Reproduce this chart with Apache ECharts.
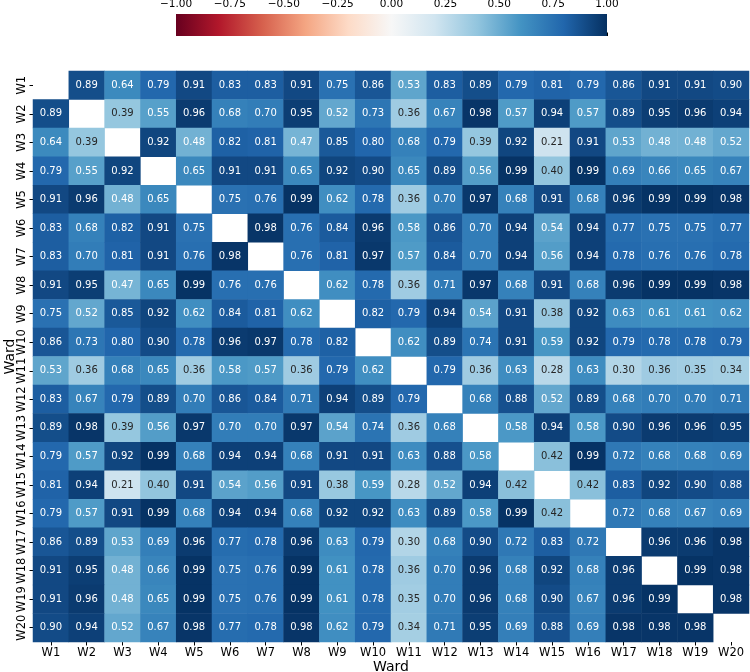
<!DOCTYPE html>
<html>
<head>
<meta charset="utf-8">
<script src="https://cdn.jsdelivr.net/npm/echarts@6/dist/echarts.min.js"></script>
<style>
  html, body { margin: 0; padding: 0; background: #fff; }
  #main { width: 750px; height: 672px; }
</style>
</head>
<body>
<div id="main"></div>
<script>
// ward names (rows top to bottom, columns left to right)
var wards = ['W1', 'W2', 'W3', 'W4', 'W5', 'W6', 'W7', 'W8', 'W9', 'W10',
  'W11', 'W12', 'W13', 'W14', 'W15', 'W16', 'W17', 'W18', 'W19', 'W20'];

// correlation matrix, diagonal masked
var corr = [
  [null, 0.89, 0.64, 0.79, 0.91, 0.83, 0.83, 0.91, 0.75, 0.86, 0.53, 0.83, 0.89, 0.79, 0.81, 0.79, 0.86, 0.91, 0.91, 0.90],
  [0.89, null, 0.39, 0.55, 0.96, 0.68, 0.70, 0.95, 0.52, 0.73, 0.36, 0.67, 0.98, 0.57, 0.94, 0.57, 0.89, 0.95, 0.96, 0.94],
  [0.64, 0.39, null, 0.92, 0.48, 0.82, 0.81, 0.47, 0.85, 0.80, 0.68, 0.79, 0.39, 0.92, 0.21, 0.91, 0.53, 0.48, 0.48, 0.52],
  [0.79, 0.55, 0.92, null, 0.65, 0.91, 0.91, 0.65, 0.92, 0.90, 0.65, 0.89, 0.56, 0.99, 0.40, 0.99, 0.69, 0.66, 0.65, 0.67],
  [0.91, 0.96, 0.48, 0.65, null, 0.75, 0.76, 0.99, 0.62, 0.78, 0.36, 0.70, 0.97, 0.68, 0.91, 0.68, 0.96, 0.99, 0.99, 0.98],
  [0.83, 0.68, 0.82, 0.91, 0.75, null, 0.98, 0.76, 0.84, 0.96, 0.58, 0.86, 0.70, 0.94, 0.54, 0.94, 0.77, 0.75, 0.75, 0.77],
  [0.83, 0.70, 0.81, 0.91, 0.76, 0.98, null, 0.76, 0.81, 0.97, 0.57, 0.84, 0.70, 0.94, 0.56, 0.94, 0.78, 0.76, 0.76, 0.78],
  [0.91, 0.95, 0.47, 0.65, 0.99, 0.76, 0.76, null, 0.62, 0.78, 0.36, 0.71, 0.97, 0.68, 0.91, 0.68, 0.96, 0.99, 0.99, 0.98],
  [0.75, 0.52, 0.85, 0.92, 0.62, 0.84, 0.81, 0.62, null, 0.82, 0.79, 0.94, 0.54, 0.91, 0.38, 0.92, 0.63, 0.61, 0.61, 0.62],
  [0.86, 0.73, 0.80, 0.90, 0.78, 0.96, 0.97, 0.78, 0.82, null, 0.62, 0.89, 0.74, 0.91, 0.59, 0.92, 0.79, 0.78, 0.78, 0.79],
  [0.53, 0.36, 0.68, 0.65, 0.36, 0.58, 0.57, 0.36, 0.79, 0.62, null, 0.79, 0.36, 0.63, 0.28, 0.63, 0.30, 0.36, 0.35, 0.34],
  [0.83, 0.67, 0.79, 0.89, 0.70, 0.86, 0.84, 0.71, 0.94, 0.89, 0.79, null, 0.68, 0.88, 0.52, 0.89, 0.68, 0.70, 0.70, 0.71],
  [0.89, 0.98, 0.39, 0.56, 0.97, 0.70, 0.70, 0.97, 0.54, 0.74, 0.36, 0.68, null, 0.58, 0.94, 0.58, 0.90, 0.96, 0.96, 0.95],
  [0.79, 0.57, 0.92, 0.99, 0.68, 0.94, 0.94, 0.68, 0.91, 0.91, 0.63, 0.88, 0.58, null, 0.42, 0.99, 0.72, 0.68, 0.68, 0.69],
  [0.81, 0.94, 0.21, 0.40, 0.91, 0.54, 0.56, 0.91, 0.38, 0.59, 0.28, 0.52, 0.94, 0.42, null, 0.42, 0.83, 0.92, 0.90, 0.88],
  [0.79, 0.57, 0.91, 0.99, 0.68, 0.94, 0.94, 0.68, 0.92, 0.92, 0.63, 0.89, 0.58, 0.99, 0.42, null, 0.72, 0.68, 0.67, 0.69],
  [0.86, 0.89, 0.53, 0.69, 0.96, 0.77, 0.78, 0.96, 0.63, 0.79, 0.30, 0.68, 0.90, 0.72, 0.83, 0.72, null, 0.96, 0.96, 0.98],
  [0.91, 0.95, 0.48, 0.66, 0.99, 0.75, 0.76, 0.99, 0.61, 0.78, 0.36, 0.70, 0.96, 0.68, 0.92, 0.68, 0.96, null, 0.99, 0.98],
  [0.91, 0.96, 0.48, 0.65, 0.99, 0.75, 0.76, 0.99, 0.61, 0.78, 0.35, 0.70, 0.96, 0.68, 0.90, 0.67, 0.96, 0.99, null, 0.98],
  [0.90, 0.94, 0.52, 0.67, 0.98, 0.77, 0.78, 0.98, 0.62, 0.79, 0.34, 0.71, 0.95, 0.69, 0.88, 0.69, 0.98, 0.98, 0.98, null]
];

// colorbar range and ticks
var colorbarRange = [-1, 1];
var colorbarStep = 0.25;

// RdBu palette
var rdbu = ['#67001f', '#b2182b', '#d6604d', '#f4a582', '#fddbc7', '#f7f7f7',
  '#d1e5f0', '#92c5de', '#4393c3', '#2166ac', '#053061'];

var font = 'DejaVu Sans';

var cells = [];
for (var i = 0; i < corr.length; i++) {
  for (var j = 0; j < corr[i].length; j++) {
    var v = corr[i][j];
    if (v === null) continue;
    cells.push({
      value: [j, i, v],
      label: { color: v < 0.45 ? '#262626' : '#ffffff' }
    });
  }
}

function fmtTick(v) {
  var s = Math.abs(v).toFixed(2);
  return v < 0 ? '\u2212' + s : s;
}

var chartDom = document.getElementById('main');
var myChart = echarts.init(chartDom);

var option = {
  animation: false,
  backgroundColor: '#ffffff',
  textStyle: { fontFamily: font },
  grid: [
    { left: 33, top: 71, width: 716, height: 571, containLabel: false, outerBoundsMode: 'none' },
    { left: 176, top: 14, width: 431, height: 22, containLabel: false, outerBoundsMode: 'none' }
  ],
  xAxis: [
    {
      type: 'category',
      gridIndex: 0,
      data: wards,
      name: 'Ward',
      nameLocation: 'middle',
      nameGap: 18,
      nameMoveOverlap: false,
      nameTextStyle: { fontSize: 14, color: '#000', fontFamily: font },
      axisLine: { show: false },
      axisTick: { show: true, alignWithLabel: true, interval: 0, length: 3.5, lineStyle: { color: '#000' } },
      axisLabel: { fontSize: 11.5, color: '#000', margin: 5, interval: 0, fontFamily: font },
      splitLine: { show: false }
    },
    {
      type: 'value',
      gridIndex: 1,
      position: 'top',
      min: colorbarRange[0],
      max: colorbarRange[1],
      interval: colorbarStep,
      axisLine: { show: false },
      axisTick: { show: true, length: 3.5, lineStyle: { color: '#000' } },
      axisLabel: { fontSize: 10.5, color: '#000', margin: 4, formatter: fmtTick, fontFamily: font },
      splitLine: { show: false }
    }
  ],
  yAxis: [
    {
      type: 'category',
      gridIndex: 0,
      data: wards,
      inverse: true,
      name: 'Ward',
      nameLocation: 'middle',
      nameGap: 16,
      nameMoveOverlap: false,
      nameTextStyle: { fontSize: 14, color: '#000', fontFamily: font },
      axisLine: { show: false },
      axisTick: { show: true, alignWithLabel: true, interval: 0, length: 3.5, lineStyle: { color: '#000' } },
      axisLabel: { fontSize: 11.5, color: '#000', margin: 5, rotate: 90, interval: 0, fontFamily: font },
      splitLine: { show: false }
    },
    {
      type: 'value',
      gridIndex: 1,
      min: 0,
      max: 1,
      show: false
    }
  ],
  visualMap: {
    show: false,
    type: 'continuous',
    seriesIndex: 0,
    dimension: 2,
    min: colorbarRange[0],
    max: colorbarRange[1],
    inRange: { color: rdbu }
  },
  series: [
    {
      type: 'heatmap',
      xAxisIndex: 0,
      yAxisIndex: 0,
      data: cells,
      label: {
        show: true,
        fontSize: 10,
        fontFamily: font,
        formatter: function (p) { return p.value[2].toFixed(2); }
      },
      emphasis: { disabled: true }
    },
    {
      type: 'custom',
      xAxisIndex: 1,
      yAxisIndex: 1,
      data: [[colorbarRange[0], colorbarRange[1]]],
      silent: true,
      renderItem: function (params, api) {
        var a = api.coord([api.value(0), 0]);
        var b = api.coord([api.value(1), 1]);
        var stops = rdbu.map(function (c, k) {
          return { offset: k / (rdbu.length - 1), color: c };
        });
        return {
          type: 'rect',
          shape: { x: a[0], y: b[1], width: b[0] - a[0], height: a[1] - b[1] },
          style: { fill: new echarts.graphic.LinearGradient(0, 0, 1, 0, stops) }
        };
      }
    }
  ]
};

option && myChart.setOption(option);
</script>
</body>
</html>
